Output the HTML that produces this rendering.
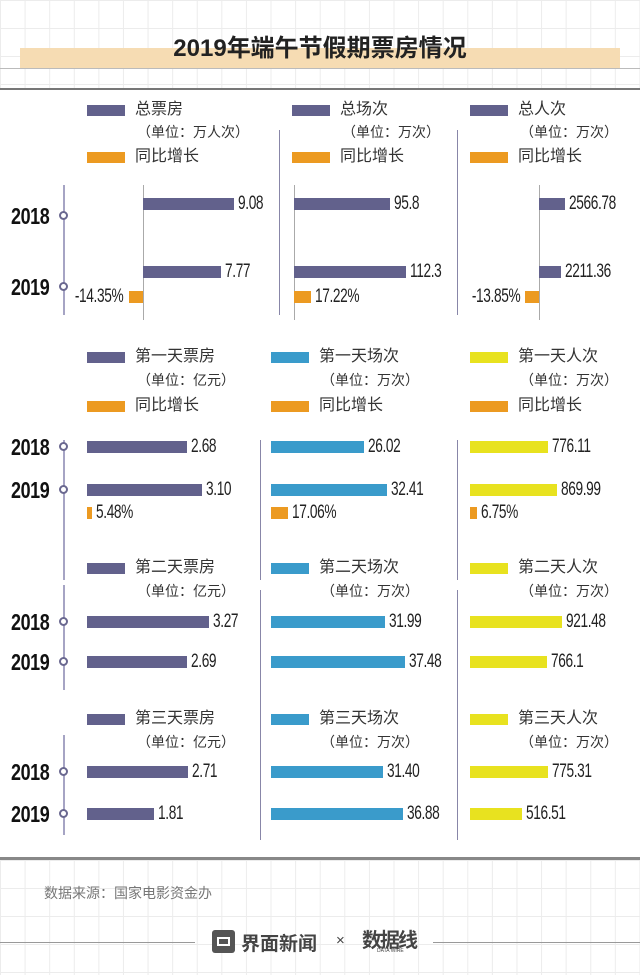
<!DOCTYPE html>
<html><head><meta charset="utf-8">
<style>
*{margin:0;padding:0;box-sizing:border-box}
body{width:640px;height:975px;background:#fff;position:relative;overflow:hidden;font-family:"Liberation Sans","Noto Sans CJK SC",sans-serif;color:#333}
.abs{position:absolute}
.grid{position:absolute;left:0;width:640px;background-image:linear-gradient(#ececec 1px,transparent 1px),linear-gradient(90deg,#ececec 1px,transparent 1px);background-size:24.6px 28px}
.lg{position:absolute;font-size:16px;line-height:18px;white-space:nowrap}
.unit{position:absolute;font-size:14px;line-height:16px;white-space:nowrap}
.num{position:absolute;font-family:"Liberation Sans",sans-serif;font-size:19px;line-height:20px;white-space:nowrap;color:#222;letter-spacing:-0.5px;transform:scaleX(0.72);transform-origin:left center}
.num.neg{transform-origin:right center}
.yr{position:absolute;font-family:"Liberation Sans",sans-serif;font-weight:bold;font-size:23px;line-height:24px;color:#111;letter-spacing:-0.5px;transform:scaleX(0.78);transform-origin:left center}
.dot{position:absolute;width:9px;height:9px;border:2px solid #6a6890;border-radius:50%;background:#fff}
</style></head>
<body>
<div class="grid" style="top:0;height:88px"></div>
<div class="grid" style="top:860px;height:115px"></div>
<div class="abs" style="left:20px;top:48px;width:600px;height:21px;background:#f6dcb3"></div>
<div class="abs" style="left:0;top:68px;width:640px;height:1px;background:#bbb"></div>
<div class="abs" style="left:0;top:35px;width:640px;text-align:center;font-size:24px;line-height:28px;font-weight:bold;color:#222">2019年端午节假期票房情况</div>
<div class="abs" style="left:0;top:88px;width:640px;height:2px;background:#777"></div>
<div class="abs" style="left:0;top:857px;width:640px;height:3px;background:#888"></div>
<div class="abs" style="left:44px;top:883px;font-size:14px;color:#777">数据来源：国家电影资金办</div>
<div class="abs" style="left:0;top:942px;width:195px;height:1px;background:#999"></div>
<div class="abs" style="left:433px;top:942px;width:207px;height:1px;background:#999"></div>
<div class="abs" style="left:212px;top:930px;width:23px;height:23px;background:#555;border-radius:3px"><div style="position:absolute;left:5px;top:7px;width:13px;height:9px;border:2px solid #fff"></div></div>
<div class="abs" style="left:241px;top:929px;font-size:19px;font-weight:bold;color:#444">界面新闻</div>
<div class="abs" style="left:336px;top:932px;font-size:15px;color:#444">×</div>
<div class="abs" style="left:362px;top:924px;font-size:20px;font-weight:bold;color:#444;letter-spacing:-2px">数据线</div>
<div class="abs" style="left:377px;top:948px;font-size:5px;color:#444">DATA WIRE</div>
<div id="root"></div>
<script>
// ---- data ----
var totalNames = ["总票房","总场次","总人次"];
var totalUnits = ["（单位：万人次）","（单位：万次）","（单位：万次）"];
var total2018 = [9.08, 95.8, 2566.78];
var total2019 = [7.77, 112.3, 2211.36];
var totalGrowth = [-14.35, 17.22, -13.85];
var total2018Labels = ["9.08","95.8","2566.78"];
var total2019Labels = ["7.77","112.3","2211.36"];
var totalGrowthLabels = ["-14.35%","17.22%","-13.85%"];

var day1Names = ["第一天票房","第一天场次","第一天人次"];
var day1_2018 = [2.68, 26.02, 776.11];
var day1_2019 = [3.10, 32.41, 869.99];
var day1Growth = [5.48, 17.06, 6.75];
var day1_2018Labels = ["2.68","26.02","776.11"];
var day1_2019Labels = ["3.10","32.41","869.99"];
var day1GrowthLabels = ["5.48%","17.06%","6.75%"];

var day2Names = ["第二天票房","第二天场次","第二天人次"];
var day2_2018 = [3.27, 31.99, 921.48];
var day2_2019 = [2.69, 37.48, 766.1];
var day2_2018Labels = ["3.27","31.99","921.48"];
var day2_2019Labels = ["2.69","37.48","766.1"];

var day3Names = ["第三天票房","第三天场次","第三天人次"];
var day3_2018 = [2.71, 31.40, 775.31];
var day3_2019 = [1.81, 36.88, 516.51];
var day3_2018Labels = ["2.71","31.40","775.31"];
var day3_2019Labels = ["1.81","36.88","516.51"];

var dayUnits = ["（单位：亿元）","（单位：万次）","（单位：万次）"];
var years = ["2018","2019"];

// ---- layout ----
var PURPLE="#62618c", BLUE="#3a9bcb", YELLOW="#e8e21f", ORANGE="#ec9a21";
var root=document.getElementById('root');
function box(css,cls,text){
  var d=document.createElement('div');
  d.className=cls||'abs';
  d.style.cssText=css;
  if(text!==undefined)d.textContent=text;
  root.appendChild(d);
  return d;
}
function hScale(k){return function(v){return v*k;};}
var growthScale=hScale(1);

function timeline(name,top,h,y1,y2){
  var l=box('left:63px;top:'+top+'px;width:2px;height:'+h+'px;background:#a6a4c4');
  
  
  [y1,y2].forEach(function(y,i){
    var d=box('left:59px;top:'+(y-5)+'px','dot');
    
    
    var t=box('left:11px;top:'+(y-12)+'px','yr',years[i]);
    
    
  });
}
function legend(x,y,color,text,prefix){
  var r=box('left:'+x+'px;top:'+(y-5)+'px;width:38px;height:11px;background:'+color);
  
  
  var t=box('left:'+(x+48)+'px;top:'+(y-9)+'px','lg',text);
  
  
}
function bar(x0,y,w,h,color,label,nm){
  var left=w>=0?x0:x0+w;
  var b=box('left:'+left+'px;top:'+y+'px;width:'+Math.abs(w)+'px;height:'+h+'px;background:'+color);
  
  
  var t;
  if(w>=0){t=box('left:'+(x0+w+4)+'px;top:'+(y+h/2-10)+'px','num',label);}
  else{t=box('right:'+(640-(x0+w-5))+'px;top:'+(y+h/2-10)+'px','num neg',label);}
  
  
}
function vline(x,top,h,color,nm){
  var v=box('left:'+x+'px;top:'+top+'px;width:1px;height:'+h+'px;background:'+color);
  
  
}

// Section 1: totals
var s1Legend=[87,292,470], s1Origin=[143,294,539], s1Scale=[hScale(10),hScale(1),hScale(0.01)];
vline(279,130,185,'#8886a8','divider-1a');
vline(457,130,185,'#8886a8','divider-1b');
timeline('timeline-total',185,130,216,287);
for(var i=0;i<3;i++){
  legend(s1Legend[i],110,PURPLE,totalNames[i],'total-'+i);
  var u=box('left:'+(s1Legend[i]+50)+'px;top:124px','unit',totalUnits[i]);
  
  
  legend(s1Legend[i],157,ORANGE,'同比增长','total-growth-'+i);
  vline(s1Origin[i],185,135,'#aaa','total-axis-'+i);
  bar(s1Origin[i],198,s1Scale[i](total2018[i]),12,PURPLE,total2018Labels[i],'total-bar-2018-'+i);
  bar(s1Origin[i],266,s1Scale[i](total2019[i]),12,PURPLE,total2019Labels[i],'total-bar-2019-'+i);
  bar(s1Origin[i],291,growthScale(totalGrowth[i]),12,ORANGE,totalGrowthLabels[i],'total-growth-bar-'+i);
}

// Day sections
var dayOrigin=[87,271,470], dayColors=[PURPLE,BLUE,YELLOW];
var dayScale=[hScale(37.2),hScale(3.57),hScale(0.1)];
var sections=[
  {key:'day1',names:day1Names,v18:day1_2018,v19:day1_2019,l18:day1_2018Labels,l19:day1_2019Labels,growth:day1Growth,gl:day1GrowthLabels,ly:357,y18:441,y19:484,gy:507,tlTop:440,tlH:140,dTop:440,dH:140},
  {key:'day2',names:day2Names,v18:day2_2018,v19:day2_2019,l18:day2_2018Labels,l19:day2_2019Labels,ly:568,y18:616,y19:656,tlTop:585,tlH:105,dTop:590,dH:110},
  {key:'day3',names:day3Names,v18:day3_2018,v19:day3_2019,l18:day3_2018Labels,l19:day3_2019Labels,ly:719,y18:766,y19:808,tlTop:735,tlH:100,dTop:700,dH:140}
];
sections.forEach(function(s){
  vline(260,s.dTop,s.dH,'#8886a8',s.key+'-divider-a');
  vline(457,s.dTop,s.dH,'#8886a8',s.key+'-divider-b');
  timeline('timeline-'+s.key,s.tlTop,s.tlH,s.y18+6,s.y19+6);
  for(var i=0;i<3;i++){
    legend(dayOrigin[i],s.ly,dayColors[i],s.names[i],s.key+'-'+i);
    var u=box('left:'+(dayOrigin[i]+50)+'px;top:'+(s.ly+15)+'px','unit',dayUnits[i]);
    
    
    if(s.growth) legend(dayOrigin[i],s.ly+49,ORANGE,'同比增长',s.key+'-growth-'+i);
    bar(dayOrigin[i],s.y18,dayScale[i](s.v18[i]),12,dayColors[i],s.l18[i],s.key+'-bar-2018-'+i);
    bar(dayOrigin[i],s.y19,dayScale[i](s.v19[i]),12,dayColors[i],s.l19[i],s.key+'-bar-2019-'+i);
    if(s.growth) bar(dayOrigin[i],s.gy,growthScale(s.growth[i]),12,ORANGE,s.gl[i],s.key+'-growth-bar-'+i);
  }
});
</script>
</body></html>
